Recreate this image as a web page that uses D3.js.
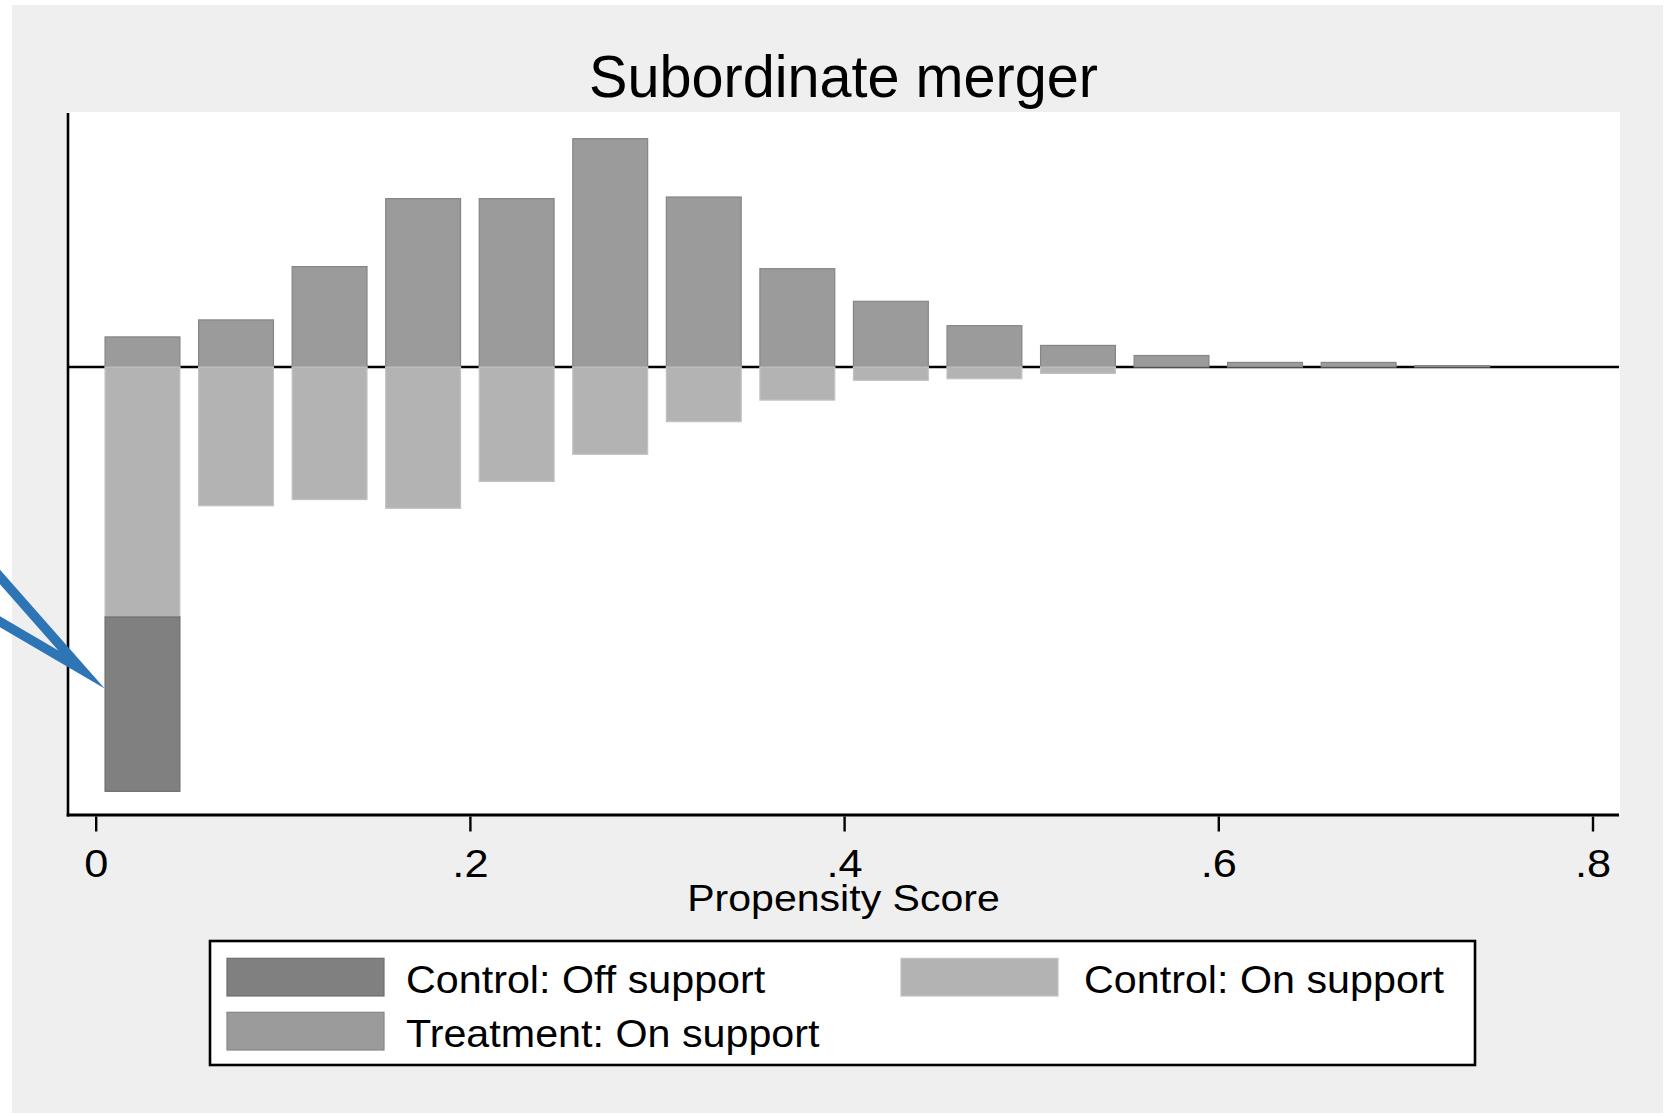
<!DOCTYPE html>
<html>
<head>
<meta charset="utf-8">
<script src="https://cdn.jsdelivr.net/npm/d3@7"></script>
<style>
  html, body { margin: 0; padding: 0; background: #ffffff; }
  svg { display: block; }
  text { font-family: "Liberation Sans", Arial, Helvetica, sans-serif; fill: #000; }
</style>
</head>
<body>
<svg id="chart"></svg>
<script>
// Propensity-score bins (midpoints) and bar heights per group
const binMids   = [0.025, 0.075, 0.125, 0.175, 0.225, 0.275, 0.325, 0.375, 0.425, 0.475, 0.525, 0.575, 0.625, 0.675, 0.725];
const treatedOn = [13.1, 20.5, 43.7, 73.3, 73.3, 99.4, 74.0, 42.8, 28.6, 18.0, 9.4, 5.0, 2.0, 2.0, 0.6];
const controlOn = [108.8, 60.4, 57.7, 61.5, 49.8, 38.0, 23.8, 14.4, 5.8, 5.1, 2.8, 0, 0, 0, 0];
const controlOff = [75.9, 0, 0, 0, 0, 0, 0, 0, 0, 0, 0, 0, 0, 0, 0];

const xTicks      = [0, 0.2, 0.4, 0.6, 0.8];
const xTickLabels = ["0", ".2", ".4", ".6", ".8"];

const legendNames = ["Control: Off support", "Control: On support", "Treatment: On support"];
const chartTitle  = "Subordinate merger";
const xAxisTitle  = "Propensity Score";

// ---- layout ----
const W = 1675, H = 1116;
const plot = { left: 68, right: 1620, top: 112, bottom: 815 };
const barWidth = 0.04;

const colors = {
  off:   { fill: "#808080", stroke: "#6e6e6e" },
  onC:   { fill: "#b3b3b3", stroke: "#c2c2c2" },
  treat: { fill: "#9b9b9b", stroke: "#858585" }
};

const svg = d3.select("#chart").attr("width", W).attr("height", H);

const x = d3.scaleLinear().domain([0, 0.8]).range([95.7, 1592.5]);
const y = d3.scaleLinear().domain([-195, 111]).range([plot.bottom, plot.top]);

// outer graph region
svg.append("rect").attr("x", 12).attr("y", 5).attr("width", 1651).attr("height", 1108).attr("fill", "#efefef");

// plot region
svg.append("rect")
  .attr("x", plot.left).attr("y", plot.top)
  .attr("width", plot.right - plot.left).attr("height", plot.bottom - plot.top)
  .attr("fill", "#ffffff");

// zero reference line
svg.append("line")
  .attr("x1", plot.left).attr("x2", plot.right - 1)
  .attr("y1", y(0)).attr("y2", y(0))
  .attr("stroke", "#000").attr("stroke-width", 2.6);

const bins = binMids.map((m, i) => ({ m, t: treatedOn[i], c: controlOn[i], o: controlOff[i] }));
const bx = d => x(d.m - barWidth / 2);
const bw = d => x(d.m + barWidth / 2) - x(d.m - barWidth / 2);

const bars = svg.append("g");

// treated, above the line
bars.selectAll("rect.treat").data(bins.filter(d => d.t > 0)).join("rect")
  .attr("class", "treat")
  .attr("x", bx).attr("width", bw)
  .attr("y", d => y(d.t)).attr("height", d => y(0) - y(d.t))
  .attr("fill", colors.treat.fill).attr("stroke", colors.treat.stroke).attr("stroke-width", 1.2);

// control on support, below the line
bars.selectAll("rect.onc").data(bins.filter(d => d.c > 0)).join("rect")
  .attr("class", "onc")
  .attr("x", bx).attr("width", bw)
  .attr("y", y(0)).attr("height", d => y(-d.c) - y(0))
  .attr("fill", colors.onC.fill).attr("stroke", colors.onC.stroke).attr("stroke-width", 1.2);

// control off support, stacked under the on-support part
bars.selectAll("rect.off").data(bins.filter(d => d.o > 0)).join("rect")
  .attr("class", "off")
  .attr("x", bx).attr("width", bw)
  .attr("y", d => y(-d.c)).attr("height", d => y(-d.c - d.o) - y(-d.c))
  .attr("fill", colors.off.fill).attr("stroke", colors.off.stroke).attr("stroke-width", 1.2);

// y axis line (no ticks)
svg.append("line")
  .attr("x1", plot.left).attr("x2", plot.left)
  .attr("y1", plot.top + 1).attr("y2", plot.bottom + 1.5)
  .attr("stroke", "#000").attr("stroke-width", 2.6);

// x axis
svg.append("line")
  .attr("x1", plot.left - 1.3).attr("x2", plot.right - 1)
  .attr("y1", plot.bottom).attr("y2", plot.bottom)
  .attr("stroke", "#000").attr("stroke-width", 3);

const xAxis = d3.axisBottom(x)
  .tickValues(xTicks)
  .tickFormat((d, i) => xTickLabels[i])
  .tickSize(15)
  .tickSizeOuter(0);

const gx = svg.append("g").attr("transform", `translate(0,${plot.bottom + 1.5})`).call(xAxis);
gx.select(".domain").remove();
gx.selectAll(".tick line").attr("stroke", "#000").attr("stroke-width", 2.4);
gx.selectAll(".tick text")
  .attr("y", null).attr("dy", null)
  .attr("font-size", 38)
  .attr("font-family", null)
  .attr("fill", "#000")
  .attr("transform", `translate(0,${876.5 - plot.bottom - 1.5}) scale(1.14,1)`);

// stretched text helper
function label(g, txt, tx, ty, size, sx, anchor) {
  return g.append("text")
    .attr("transform", `translate(${tx},${ty}) scale(${sx},1)`)
    .attr("text-anchor", anchor)
    .attr("font-size", size)
    .text(txt);
}

// titles
label(svg, chartTitle, 843.5, 97, 60, 0.96, "middle");
label(svg, xAxisTitle, 843.5, 911, 37.5, 1.095, "middle");

// legend
const lg = svg.append("g");
lg.append("rect")
  .attr("x", 210).attr("y", 941).attr("width", 1265).attr("height", 124)
  .attr("fill", "#fff").attr("stroke", "#000").attr("stroke-width", 2.6);

const legendItems = [
  { name: legendNames[0], c: colors.off,   sx: 227, tx: 406,  row: 0 },
  { name: legendNames[1], c: colors.onC,   sx: 901, tx: 1084, row: 0 },
  { name: legendNames[2], c: colors.treat, sx: 227, tx: 406,  row: 1 }
];
legendItems.forEach(it => {
  const top = 958.3 + it.row * 54;
  lg.append("rect")
    .attr("x", it.sx).attr("y", top).attr("width", 157).attr("height", 37.7)
    .attr("fill", it.c.fill).attr("stroke", it.c.stroke).attr("stroke-width", 1.2);
  label(lg, it.name, it.tx, top + 34.6, 38, 1.086, "start");
});

// callout pointer
svg.append("polyline")
  .attr("points", [[-40, 577 - 40 * 1.135], [81.5, 669.5], [-40, 621.7 - 40 * 0.587]].map(p => p.join(",")).join(" "))
  .attr("fill", "none")
  .attr("stroke", "#2e75b6")
  .attr("stroke-width", 9.5)
  .attr("stroke-linejoin", "miter")
  .attr("stroke-miterlimit", 20);
</script>
</body>
</html>
